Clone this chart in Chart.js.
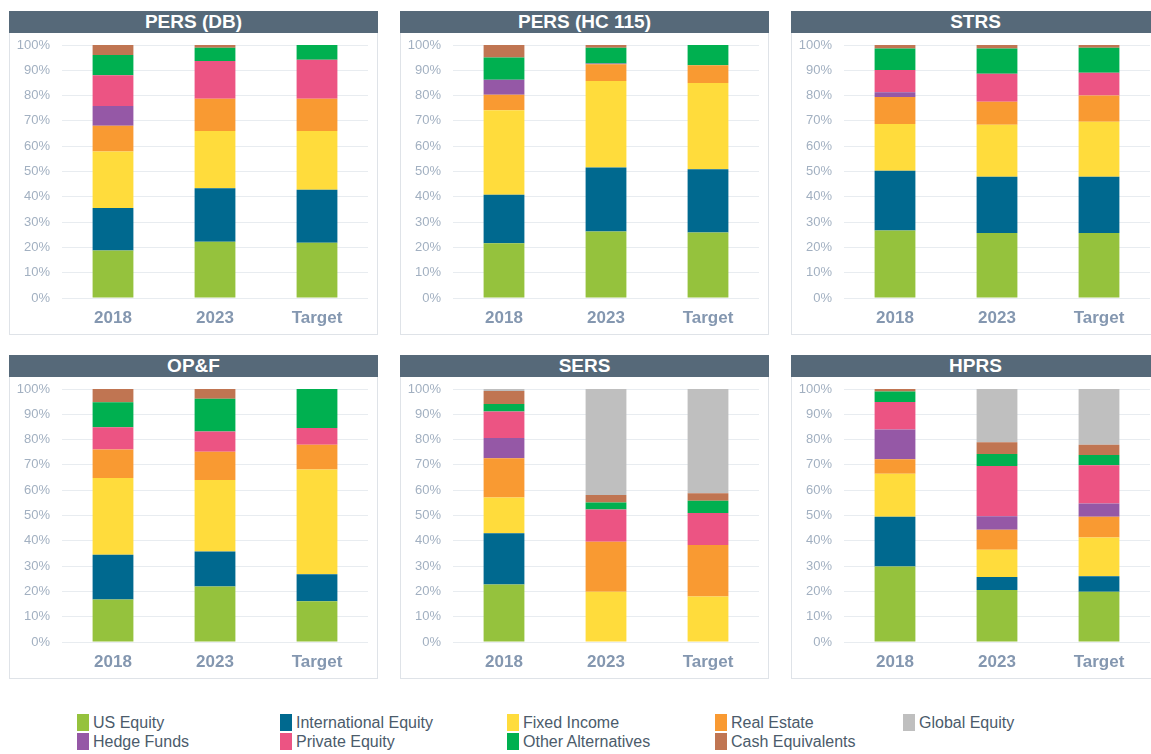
<!DOCTYPE html>
<html>
<head>
<meta charset="utf-8">
<script src="https://cdn.jsdelivr.net/npm/chart.js@4/dist/chart.umd.min.js"></script>
<style>
  html, body { margin: 0; padding: 0; background: #fff; overflow: hidden; }
  body { width: 1151px; height: 754px; position: relative; font-family: 'Liberation Sans', Arial, sans-serif; }
  .panel { position: absolute; width: 369px; height: 324px; box-sizing: border-box; border: 1px solid #dfe3e8; }
  .panel .title {
    position: absolute; top: -1px; left: -1px; width: 369px; height: 22px;
    background: #566979; color: #fff; font-weight: bold; font-size: 19px;
    line-height: 22px; text-align: center;
  }
  .panel canvas { position: absolute; top: 22px; left: 0; }
  .legend-item { position: absolute; height: 17px; line-height: 17px; font-size: 16px; color: #4b5b6b; white-space: nowrap; }
  .legend-item span.sw { position: absolute; left: 0; top: 0; width: 12px; height: 17px; }
  .legend-item span.lb { position: absolute; left: 16px; top: 0; }
</style>
</head>
<body>
<script>
const categories = ['2018', '2023', 'Target'];

const assetClasses = [
  'US Equity', 'International Equity', 'Fixed Income', 'Real Estate',
  'Hedge Funds', 'Private Equity', 'Other Alternatives', 'Cash Equivalents', 'Global Equity'
];

const assetColors = [
  '#95c23d', '#00698f', '#ffdc3c', '#f99a32',
  '#9558a6', '#ec5483', '#00b050', '#c07552', '#bfbfbf'
];

// rows follow assetClasses, columns follow categories (percent of portfolio)
const persDbValues = [
  [18.8, 22.2, 21.8],
  [16.8, 21.2, 21.0],
  [22.3, 22.6, 23.2],
  [10.2, 12.8, 12.8],
  [7.8, 0, 0],
  [12.1, 14.9, 15.4],
  [8.0, 5.2, 5.8],
  [4.0, 1.1, 0],
  [0, 0, 0],
];

const persHcValues = [
  [21.6, 26.3, 25.9],
  [19.2, 25.3, 25.0],
  [33.4, 34.2, 34.1],
  [6.1, 6.6, 7.0],
  [6.0, 0.3, 0],
  [0, 0, 0],
  [8.8, 6.2, 8.0],
  [4.9, 1.1, 0],
  [0, 0, 0],
];

const strsValues = [
  [26.7, 25.7, 25.7],
  [23.6, 22.2, 22.2],
  [18.5, 20.6, 21.8],
  [10.6, 9.1, 10.3],
  [1.9, 0, 0],
  [8.8, 11.0, 9.0],
  [8.5, 10.0, 9.9],
  [1.4, 1.4, 1.1],
  [0, 0, 0],
];

const opfValues = [
  [16.8, 21.9, 16.1],
  [17.7, 13.9, 10.7],
  [30.3, 28.2, 41.4],
  [11.3, 11.2, 9.8],
  [0, 0, 0],
  [8.8, 8.0, 6.6],
  [9.9, 12.9, 15.4],
  [5.2, 3.9, 0],
  [0, 0, 0],
];

const sersValues = [
  [22.7, 0, 0],
  [20.3, 0, 0],
  [14.1, 19.9, 18.0],
  [15.5, 19.7, 20.3],
  [8.0, 0, 0],
  [10.5, 12.8, 12.7],
  [3.0, 2.7, 4.8],
  [5.1, 3.0, 3.0],
  [0.8, 41.9, 41.2],
];

const hprsValues = [
  [29.8, 20.6, 19.9],
  [19.7, 5.1, 6.1],
  [17.0, 10.8, 15.3],
  [5.7, 7.9, 8.2],
  [11.8, 5.3, 5.2],
  [10.9, 19.9, 15.2],
  [4.1, 4.7, 4.0],
  [1.0, 4.7, 4.1],
  [0, 21.0, 22.0],
];

const yTicks = [0, 10, 20, 30, 40, 50, 60, 70, 80, 90, 100];

const panels = [
  { title: 'PERS (DB)', values: persDbValues, left: 9, top: 11 },
  { title: 'PERS (HC 115)', values: persHcValues, left: 400, top: 11 },
  { title: 'STRS', values: strsValues, left: 791, top: 11 },
  { title: 'OP&F', values: opfValues, left: 9, top: 355 },
  { title: 'SERS', values: sersValues, left: 400, top: 355 },
  { title: 'HPRS', values: hprsValues, left: 791, top: 355 },
];

const fontFamily = "'Liberation Sans', Arial, sans-serif";
const gridColor = '#e8ecf0';
const tickColor = '#a2b0c1';
const catColor = '#8497b0';

function createPanel(p) {
  const box = document.createElement('div');
  box.className = 'panel';
  box.style.left = p.left + 'px';
  box.style.top = p.top + 'px';
  const title = document.createElement('div');
  title.className = 'title';
  title.textContent = p.title;
  box.appendChild(title);
  const canvas = document.createElement('canvas');
  canvas.width = 367;
  canvas.height = 300;
  box.appendChild(canvas);
  document.body.appendChild(box);

  return new Chart(canvas, {
    type: 'bar',
    data: {
      labels: categories,
      datasets: assetClasses.map((name, i) => ({
        label: name,
        data: p.values[i],
        backgroundColor: assetColors[i],
        borderWidth: 0,
        barPercentage: 0.4,
        categoryPercentage: 1.0,
      })),
    },
    options: {
      responsive: false,
      animation: false,
      layout: { padding: { top: 0, right: 9, left: 0, bottom: 0 } },
      plugins: { legend: { display: false }, tooltip: { enabled: false } },
      scales: {
        x: {
          stacked: true,
          grid: { display: false, drawTicks: false },
          border: { display: false },
          ticks: { color: catColor, font: { family: fontFamily, size: 17, weight: 'bold' }, padding: 10, maxRotation: 0 },
          afterFit: s => { s.height = 36; },
        },
        y: {
          stacked: true,
          min: 0,
          max: 100,
          afterBuildTicks: s => { s.ticks = yTicks.map(v => ({ value: v })); },
          grid: { color: gridColor, drawTicks: false, lineWidth: 1 },
          border: { display: false },
          ticks: { color: tickColor, font: { family: fontFamily, size: 13 }, padding: 12, callback: v => v + '%' },
          afterFit: s => { s.width = 52; s.paddingTop = 11; },
        },
      },
    },
  });
}

panels.forEach(createPanel);

// legend laid out as two rows like the original
const legendCols = [77, 280, 507, 715, 903];
const legendRows = [714, 733];
const legendOrder = [
  [0, 1, 2, 3, 8],
  [4, 5, 6, 7],
];
legendOrder.forEach((row, r) => {
  row.forEach((idx, c) => {
    const item = document.createElement('div');
    item.className = 'legend-item';
    item.style.left = legendCols[c] + 'px';
    item.style.top = legendRows[r] + 'px';
    const sw = document.createElement('span');
    sw.className = 'sw';
    sw.style.background = assetColors[idx];
    const lb = document.createElement('span');
    lb.className = 'lb';
    lb.textContent = assetClasses[idx];
    item.appendChild(sw);
    item.appendChild(lb);
    document.body.appendChild(item);
  });
});
</script>
</body>
</html>
